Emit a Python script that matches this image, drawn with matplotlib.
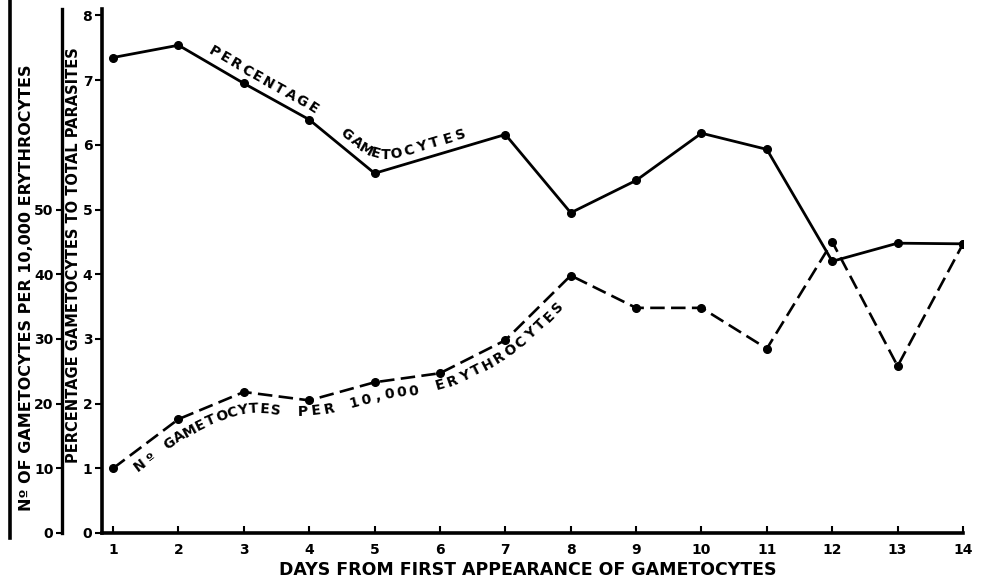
import numpy as np
import matplotlib
matplotlib.use('Agg')
import matplotlib.pyplot as plt
from matplotlib.lines import Line2D

# days since gametocytes first appeared
days = list(range(1, 15))
day_labels = [str(d) for d in days]

# percentage of gametocytes to total parasites (no reading on day 6)
pct_days = [1, 2, 3, 4, 5, 7, 8, 9, 10, 11, 12, 13, 14]
pct_gametocytes = [7.35, 7.54, 6.95, 6.39, 5.56, 6.16, 4.95, 5.45, 6.18, 5.93, 4.2, 4.48, 4.47]

# gametocytes per 10,000 erythrocytes
gam_per_10000 = [10.0, 17.6, 21.8, 20.5, 23.3, 24.7, 29.8, 39.8, 34.8, 34.8, 28.5, 45.0, 25.8, 44.7]

pct_ticks = list(range(0, 9))
count_ticks = [0, 10, 20, 30, 40, 50]

W, H = 981, 585
plt.rcParams['font.family'] = 'DejaVu Sans'
plt.rcParams['font.weight'] = 'bold'

fig = plt.figure(figsize=(W / 100, H / 100), dpi=100)
ax = fig.add_axes([102 / W, 52 / H, 861 / W, 524 / H])
ax.set_xlim(0.83, 14)
ax.set_ylim(0, 8.1)


def label_along(ax, xs, ys, text, start, step, offset, smooth=41, **kw):
    """Write text one letter at a time following a smoothed polyline (pixel units)."""
    pts = ax.transData.transform(np.column_stack([xs, ys]))
    cum = np.concatenate([[0], np.cumsum(np.hypot(*np.diff(pts, axis=0).T))])
    s = np.arange(0, cum[-1], 1.0)
    px = np.interp(s, cum, pts[:, 0])
    py = np.interp(s, cum, pts[:, 1])
    half = smooth // 2
    box = np.ones(smooth) / smooth
    px = np.convolve(np.pad(px, half, mode='edge'), box, mode='valid')
    py = np.convolve(np.pad(py, half, mode='edge'), box, mode='valid')
    dx, dy = np.gradient(px), np.gradient(py)
    arc = np.concatenate([[0], np.cumsum(np.hypot(np.diff(px), np.diff(py)))])
    inv = ax.transData.inverted()
    for i, ch in enumerate(text):
        a = start + i * step
        x0, y0 = np.interp(a, arc, px), np.interp(a, arc, py)
        ux, uy = np.interp(a, arc, dx), np.interp(a, arc, dy)
        n = np.hypot(ux, uy)
        ux, uy = ux / n, uy / n
        x, y = inv.transform((x0 - offset * uy, y0 + offset * ux))
        ax.text(x, y, ch, rotation=np.degrees(np.arctan2(uy, ux)),
                rotation_mode='anchor', ha='center', va='center', **kw)


# percentage line
ax.plot(pct_days, pct_gametocytes, color='black', lw=2, marker='o', ms=5.5,
        solid_capstyle='round', zorder=3)

# gametocyte count, drawn on the percentage scale (10 per unit)
count_scaled = [v / 10 for v in gam_per_10000]
dash_line, = ax.plot(days, count_scaled, color='black', lw=1.9, marker='o', ms=5.5,
                     zorder=3)
dash_line.set_dashes((5.5, 2.4))

ax.spines['top'].set_visible(False)
ax.spines['right'].set_visible(False)
ax.spines['left'].set_linewidth(2.6)
ax.spines['bottom'].set_linewidth(2.6)

ax.set_xticks(days)
ax.set_xticklabels(day_labels)
ax.set_yticks(pct_ticks)
ax.tick_params(axis='x', direction='in', length=5, width=1.5, pad=7, labelsize=10)
ax.tick_params(axis='y', direction='out', length=5, width=1.5, pad=2, labelsize=10)

# second scale on the left for the count (offset in points: 40 px)
ax2 = ax.twinx()
ax2.set_ylim(0, 81)
ax2.yaxis.tick_left()
ax2.spines['left'].set_position(('outward', 29))
ax2.spines['left'].set_linewidth(2.4)
for side in ('top', 'right', 'bottom'):
    ax2.spines[side].set_visible(False)
ax2.set_yticks(count_ticks)
ax2.tick_params(axis='y', direction='out', length=4, width=1.5, pad=2, labelsize=10)

# outer rule at the far left
fig.add_artist(Line2D([10 / W, 10 / W], [(H - 538) / H, 1.0], transform=fig.transFigure,
                      color='black', lw=2.6))

fig.text(27 / W, 1 - 288 / H, 'Nº OF GAMETOCYTES PER 10,000 ERYTHROCYTES',
         rotation=90, ha='center', va='center', fontsize=11.5)
fig.text(74 / W, 1 - 255 / H, 'PERCENTAGE GAMETOCYTES TO TOTAL PARASITES',
         rotation=90, ha='center', va='center', fontsize=10.5)
fig.text(528 / W, 1 - 570 / H, 'DAYS FROM FIRST APPEARANCE OF GAMETOCYTES',
         ha='center', va='center', fontsize=12.5)

# labels written along the curves
label_along(ax, pct_days[1:], pct_gametocytes[1:], 'PERCENTAGE', 30, 12.6, 12,
            smooth=31, fontsize=10)
label_along(ax, pct_days[1:], pct_gametocytes[1:], 'GAMETOCYTES', 180, 13.6, 12,
            smooth=61, fontsize=10)
label_along(ax, days, count_scaled, 'Nº GAMETOCYTES PER 10,000 ERYTHROCYTES', 16, 12.4, -14,
            smooth=61, fontsize=10)

fig.savefig('out.png', dpi=100, facecolor='white')
